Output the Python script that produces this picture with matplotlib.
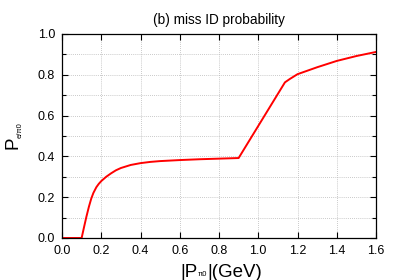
import matplotlib
matplotlib.use("Agg")
import matplotlib.pyplot as plt
from matplotlib.ticker import MultipleLocator, FormatStrFormatter

momentum = [0.0, 0.1, 0.112, 0.124, 0.137, 0.149, 0.16, 0.175, 0.187, 0.2, 0.225, 0.25, 0.275, 0.3, 0.35, 0.4,
            0.45, 0.5, 0.6, 0.7, 0.8, 0.9, 1.136, 1.16, 1.2, 1.3, 1.4, 1.5, 1.6]
prob = [0.0, 0.0, 0.052, 0.103, 0.153, 0.193, 0.221, 0.249, 0.265, 0.279, 0.300, 0.317, 0.332, 0.343, 0.358, 0.367,
        0.373, 0.377, 0.382, 0.386, 0.389, 0.392, 0.763, 0.779, 0.803, 0.837, 0.868, 0.892, 0.912]

x_ticks = [0.0, 0.2, 0.4, 0.6, 0.8, 1.0, 1.2, 1.4, 1.6]
y_ticks = [0.0, 0.2, 0.4, 0.6, 0.8, 1.0]

plt.rcParams['font.family'] = ['Liberation Sans', 'DejaVu Sans']
NARROW = ['Liberation Sans Narrow', 'Liberation Sans', 'DejaVu Sans']

W, H = 400, 280
fig = plt.figure(figsize=(4, 2.8), dpi=100)
ax = fig.add_axes([62 / W, 1 - 238 / H, 314 / W, 204 / H])
ax.plot(momentum, prob, color='red', lw=1.4)
ax.set_xlim(0, 1.6)
ax.set_ylim(0, 1.0)
ax.set_xticks(x_ticks)
ax.set_yticks(y_ticks)
ax.yaxis.set_minor_locator(MultipleLocator(0.1))
ax.xaxis.set_major_formatter(FormatStrFormatter('%.1f'))
ax.yaxis.set_major_formatter(FormatStrFormatter('%.1f'))
ax.tick_params(which='both', direction='in', top=True, right=True, labelsize=9, width=0.8, pad=5)
ax.tick_params(which='major', length=4)
ax.tick_params(which='minor', length=3)
ax.grid(which='major', axis='x', color='#b8b8b8', ls=(0, (1, 1.5)), lw=0.6)
ax.grid(which='both', axis='y', color='#b8b8b8', ls=(0, (1, 1.5)), lw=0.6)
for s in ax.spines.values():
    s.set_linewidth(0.9)
ax.set_title('(b) miss ID probability', fontsize=9.8, pad=7)


def px(x, y):
    return x / W, 1 - y / H


# x label: |P_{pi0}|(GeV)
fig.text(*px(180, 277), '|P', fontsize=13.5, family=NARROW, ha='left', va='baseline')
fig.text(*px(198, 276.5), 'π0', fontsize=5.5, family=NARROW, ha='left', va='baseline')
fig.text(*px(207, 277), '|(GeV)', fontsize=13.5, family=NARROW, ha='left', va='baseline')

# y label: P_{e/pi0}
fig.text(*px(17.7, 149), 'P', fontsize=13.5, family=NARROW, rotation=90,
         rotation_mode='anchor', ha='left', va='baseline')
fig.text(*px(21.5, 137.5), 'e/π0', fontsize=5.5, family=NARROW, rotation=90,
         rotation_mode='anchor', ha='left', va='baseline')

fig.savefig('out.png', dpi=100)
